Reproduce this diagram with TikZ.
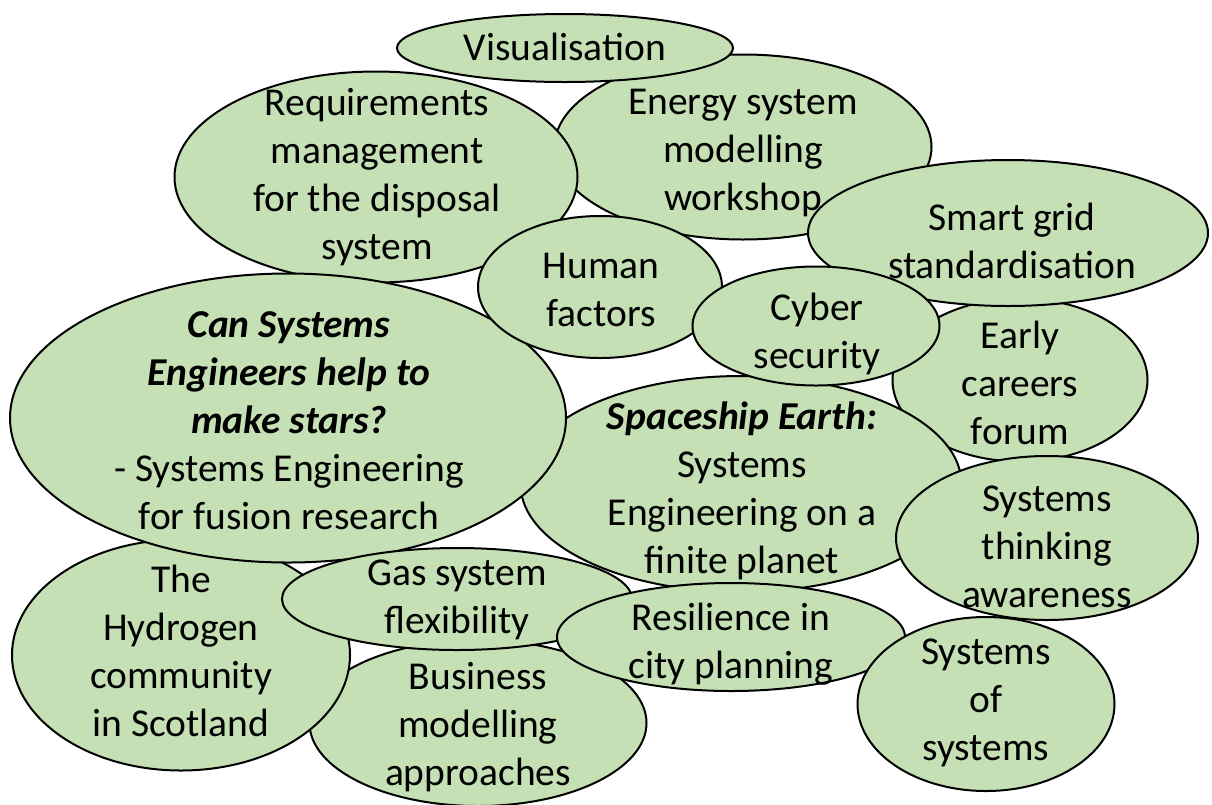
\documentclass[tikz,border=0pt]{standalone}
\usepackage{fontspec}
\setmainfont{Carlito}
\usetikzlibrary{shapes.geometric}
\definecolor{blobfill}{HTML}{C5E0B4}
\tikzset{
  blob/.style={ellipse, draw=black, line width=2pt, fill=blobfill, inner sep=0pt},
  lbl/.style={align=center, inner sep=0pt, font=\fontsize{39.5}{48}\selectfont}
}
\begin{document}
\begin{tikzpicture}[x=1pt,y=-1pt]
\useasboundingbox (0,0) rectangle (1212,804);
% back to front
\node[blob, minimum width=377pt, minimum height=185pt] (energy) at (743,147) {};
\node[lbl] (energyT) at (743,153) {Energy system\\modelling\\workshop};

\node[blob, minimum width=403pt, minimum height=211pt] (req) at (376,177) {};
\node[lbl] (reqT) at (377,177) {Requirements\\management\\for the disposal\\system};

\node[blob, minimum width=336pt, minimum height=68pt] (vis) at (565,48) {};
\node[lbl] (visT) at (565,47) {Visualisation};

\node[blob, minimum width=255pt, minimum height=163pt] (early) at (1020,380) {};
\node[lbl] (earlyT) at (1020,383) {Early\\careers\\forum};

\node[blob, minimum width=400pt, minimum height=146pt] (smart) at (1008,233) {};
\node[lbl] (smartT) at (1012,241) {Smart grid\\standardisation};

\node[blob, minimum width=441pt, minimum height=216pt] (space) at (741,484) {};
\node[lbl] (spaceT) at (742,491) {\textbf{\textit{Spaceship Earth:}}\\Systems\\Engineering on a\\finite planet};

\node[blob, minimum width=337pt, minimum height=166pt] (bus) at (478,723) {};
\node[lbl] (busT) at (478,727) {Business\\modelling\\approaches};

\node[blob, minimum width=338pt, minimum height=231pt] (hyd) at (181,655) {};
\node[lbl] (hydT) at (181,651) {The\\Hydrogen\\community\\in Scotland};

\node[blob, minimum width=556pt, minimum height=289pt] (can) at (288,418) {};
\node[lbl] (canT) at (289,421) {\textbf{\textit{Can Systems}}\\\textbf{\textit{Engineers help to}}\\\textbf{\textit{make stars?}}\\- Systems Engineering\\for fusion research};

\node[blob, minimum width=244pt, minimum height=142pt] (human) at (600,287) {};
\node[lbl] (humanT) at (601,290) {Human\\factors};

\node[blob, minimum width=247pt, minimum height=119pt] (cyber) at (816,326) {};
\node[lbl] (cyberT) at (817,334) {Cyber\\security};

\node[blob, minimum width=302pt, minimum height=164pt] (think) at (1047,538) {};
\node[lbl] (thinkT) at (1047,547) {Systems\\thinking\\awareness};

\node[blob, minimum width=350pt, minimum height=102pt] (gas) at (457,599) {};
\node[lbl] (gasT) at (457,600) {Gas system\\flexibility};

\node[blob, minimum width=348pt, minimum height=108pt] (res) at (731,637) {};
\node[lbl] (resT) at (731,644) {Resilience in\\city planning};

\node[blob, minimum width=257pt, minimum height=174pt] (sos) at (986,704) {};
\node[lbl] (sosT) at (986,703) {Systems\\of\\systems};
\end{tikzpicture}
\end{document}
